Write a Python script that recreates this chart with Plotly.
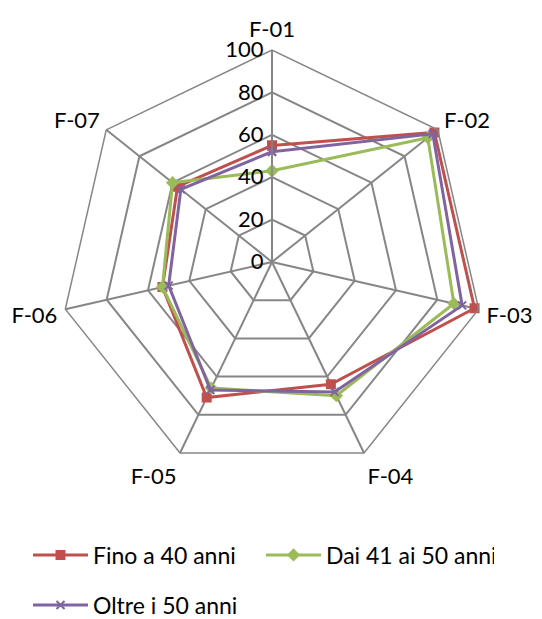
import plotly.graph_objects as go

categories = ["F-01", "F-02", "F-03", "F-04", "F-05", "F-06", "F-07"]
fino_40 = [55, 98, 98, 64, 71, 53, 57]
dai_41_50 = [43, 94, 88, 70, 66, 53, 60]
oltre_50 = [52, 97, 92, 68, 67, 50, 55]
radial_ticks = [0, 20, 40, 60, 80, 100]

series = [
    ("Fino a 40 anni", fino_40, "#C0504D", "square", 8, "legend"),
    ("Dai 41 ai 50 anni", dai_41_50, "#9BBB59", "diamond", 8, "legend"),
    ("Oltre i 50 anni", oltre_50, "#8064A2", "x-thin-open", 8, "legend2"),
]

fig = go.Figure()
for name, vals, color, sym, size, leg in series:
    fig.add_trace(go.Scatterpolar(
        r=vals + vals[:1],
        theta=categories + categories[:1],
        mode="lines+markers",
        name=name,
        legend=leg,
        line=dict(color=color, width=3),
        marker=dict(symbol=sym, size=size, color=color,
                    line=dict(color=color, width=2)),
    ))

W, H = 542, 619
cx, cy, R = 272, 262, 212
FONT = "Lato, Carlito, sans-serif"
grid = "#868686"
fig.update_layout(
    width=W, height=H,
    margin=dict(l=0, r=0, t=0, b=0, autoexpand=False),
    paper_bgcolor="white",
    font=dict(family=FONT, size=20, color="black"),
    polar=dict(
        domain=dict(x=[(cx - R) / W, (cx + R) / W],
                    y=[(H - cy - R) / H, (H - cy + R) / H]),
        gridshape="linear",
        bgcolor="white",
        radialaxis=dict(
            range=[0, 100], tickvals=radial_ticks,
            angle=90, side="counterclockwise", tickangle=90,
            showline=True, linecolor=grid, linewidth=1.5,
            gridcolor=grid, gridwidth=1.5,
            ticks="", tickfont=dict(size=22),
        ),
        angularaxis=dict(
            rotation=90, direction="clockwise",
            linecolor=grid, linewidth=1.5,
            gridcolor=grid, gridwidth=1.5,
            ticks="outside", ticklen=3, tickcolor="rgba(0,0,0,0)",
            tickfont=dict(size=22),
        ),
    ),
    legend=dict(
        orientation="h", x=28 / W, y=1 - 555 / H, xanchor="left", yanchor="middle",
        entrywidth=163, entrywidthmode="pixels", itemwidth=55,
        font=dict(size=23),
    ),
    legend2=dict(
        orientation="h", x=28 / W, y=1 - 605 / H, xanchor="left", yanchor="middle",
        itemwidth=55,
        font=dict(size=23),
    ),
)

fig.write_html("out.html")
